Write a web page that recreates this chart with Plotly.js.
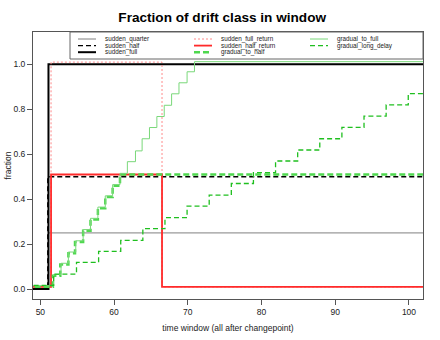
<!DOCTYPE html>
<html>
<head>
<meta charset="utf-8">
<script src="https://cdn.plot.ly/plotly-3.0.1.min.js"></script>
<style>
  html, body { margin: 0; padding: 0; background: #fff; }
  #chart { width: 440px; height: 340px; }
</style>
</head>
<body>
<div id="chart"></div>
<script>
// Step points (x = window where the fraction changes, y = fraction from there on)
const seriesNames = [
    'sudden_quarter', 'sudden_half', 'sudden_full',
    'sudden_full_return', 'sudden_half_return', 'gradual_to_half',
    'gradual_to_full', 'gradual_long_delay'
];

const suddenQuarterX = [48, 51.1, 103];
const suddenQuarterY = [0, 0.25, 0.25];

const suddenHalfX = [48, 51.0, 103];
const suddenHalfY = [0, 0.5, 0.5];

const suddenFullX = [48, 51.1, 103];
const suddenFullY = [0, 1.0, 1.0];

const suddenFullReturnX = [48, 51.45, 66.5, 103];
const suddenFullReturnY = [0.01, 1.01, 0.01, 0.01];

const suddenHalfReturnX = [48, 51.45, 66.5, 103];
const suddenHalfReturnY = [0.01, 0.51, 0.01, 0.01];

const gradualToHalfX = [48, 51.7, 52.7, 53.8, 54.7, 55.8, 56.8, 57.8, 58.8, 59.8, 60.8, 103];
const gradualToHalfY = [0.01, 0.06, 0.11, 0.16, 0.21, 0.26, 0.31, 0.36, 0.41, 0.46, 0.51, 0.51];

const gradualToFullX = [48, 51.8, 52.8, 53.8, 54.8, 55.8, 56.8, 57.8, 58.8, 59.8, 60.8,
    61.8, 62.9, 63.8, 64.8, 65.8, 66.8, 67.8, 68.8, 69.9, 70.9, 103];
const gradualToFullY = [0.015, 0.065, 0.115, 0.165, 0.215, 0.265, 0.315, 0.365, 0.415, 0.465, 0.515,
    0.567, 0.615, 0.669, 0.719, 0.768, 0.818, 0.869, 0.918, 0.967, 1.012, 1.012];

const gradualLongDelayX = [48, 51.8, 54.9, 57.9, 60.9, 63.9, 66.9, 69.9, 72.9, 75.9, 78.9,
    81.9, 84.9, 87.9, 90.9, 93.9, 96.9, 99.9, 103];
const gradualLongDelayY = [0.017, 0.067, 0.119, 0.168, 0.217, 0.269, 0.318, 0.369, 0.418, 0.47, 0.518,
    0.57, 0.619, 0.669, 0.72, 0.77, 0.82, 0.87, 0.87];

const xTicks = [50, 60, 70, 80, 90, 100];
const yTicks = [0, 0.2, 0.4, 0.6, 0.8, 1.0];

// line styles per series
const styles = {
    sudden_quarter:     { color: '#808080', width: 1,   dash: 'solid' },
    sudden_half:        { color: '#000000', width: 1.3, dash: '5px,3px' },
    sudden_full:        { color: '#000000', width: 2,   dash: 'solid' },
    sudden_full_return: { color: '#ff8a8a', width: 1,   dash: '2px,2px' },
    sudden_half_return: { color: '#ff2a2a', width: 1.8, dash: 'solid' },
    gradual_to_half:    { color: '#4fd84f', width: 2.5, dash: '6px,3px' },
    gradual_to_full:    { color: '#7ad87a', width: 1,   dash: 'solid' },
    gradual_long_delay: { color: '#1fbf1f', width: 1.3, dash: '5px,3px' }
};

const seriesData = {
    sudden_quarter: [suddenQuarterX, suddenQuarterY],
    sudden_half: [suddenHalfX, suddenHalfY],
    sudden_full: [suddenFullX, suddenFullY],
    sudden_full_return: [suddenFullReturnX, suddenFullReturnY],
    sudden_half_return: [suddenHalfReturnX, suddenHalfReturnY],
    gradual_to_half: [gradualToHalfX, gradualToHalfY],
    gradual_to_full: [gradualToFullX, gradualToFullY],
    gradual_long_delay: [gradualLongDelayX, gradualLongDelayY]
};

const traces = seriesNames.map(name => ({
    x: seriesData[name][0],
    y: seriesData[name][1],
    type: 'scatter',
    mode: 'lines',
    name: name,
    line: { shape: 'hv', color: styles[name].color, width: styles[name].width, dash: styles[name].dash },
    showlegend: false,
    hoverinfo: 'skip'
}));

// Plot area in pixels, used to place the hand-made legend
const M = { l: 33, r: 17, t: 32, b: 41 };
const W = 440, H = 340;
const pw = W - M.l - M.r, ph = H - M.t - M.b;
const px = x => (x - M.l) / pw;
const py = y => (H - M.b - y) / ph;

const shapes = [{
    type: 'rect', xref: 'paper', yref: 'paper',
    x0: px(70), x1: 1, y0: py(59), y1: 1,
    line: { color: '#666', width: 1 }, fillcolor: 'white', layer: 'above'
}];
const annotations = [];
seriesNames.forEach((name, i) => {
    const col = Math.floor(i / 3), row = i % 3;
    const yy = py(39 + row * 6.6);
    const x0 = 78 + col * 116;
    shapes.push({
        type: 'line', xref: 'paper', yref: 'paper', layer: 'above',
        x0: px(x0), x1: px(x0 + 18), y0: yy, y1: yy,
        line: { color: styles[name].color, width: styles[name].width, dash: styles[name].dash }
    });
    annotations.push({
        xref: 'paper', yref: 'paper', x: px(x0 + 25), y: yy,
        xanchor: 'left', yanchor: 'middle', showarrow: false,
        text: name, font: { family: 'Liberation Sans, Arial, sans-serif', size: 6.3, color: '#222' }
    });
});

const layout = {
    width: W, height: H,
    margin: M,
    paper_bgcolor: 'white',
    plot_bgcolor: 'white',
    font: { family: 'Liberation Sans, Arial, sans-serif', size: 8.5, color: '#222' },
    title: {
        text: '<b>Fraction of drift class in window</b>',
        font: { size: 13.6, color: '#000' },
        x: 0.505, xanchor: 'center', y: 0.95, yanchor: 'middle'
    },
    xaxis: {
        range: [49.0, 101.9],
        tickvals: xTicks,
        ticks: 'outside', ticklen: 5, tickcolor: '#555',
        showgrid: false, zeroline: false,
        showline: true, mirror: true, linecolor: '#555', linewidth: 1,
        title: { text: 'time window (all after changepoint)', font: { size: 8.5 }, standoff: 8 }
    },
    yaxis: {
        range: [-0.044, 1.144],
        tickvals: yTicks,
        tickformat: '.1f',
        ticks: 'outside', ticklen: 5, tickcolor: '#555',
        showgrid: false, zeroline: false,
        showline: true, mirror: true, linecolor: '#555', linewidth: 1,
        title: { text: 'fraction', font: { size: 8.5 }, standoff: 0 }
    },
    shapes: shapes,
    annotations: annotations
};

Plotly.newPlot('chart', traces, layout, { staticPlot: true });
</script>
</body>
</html>
